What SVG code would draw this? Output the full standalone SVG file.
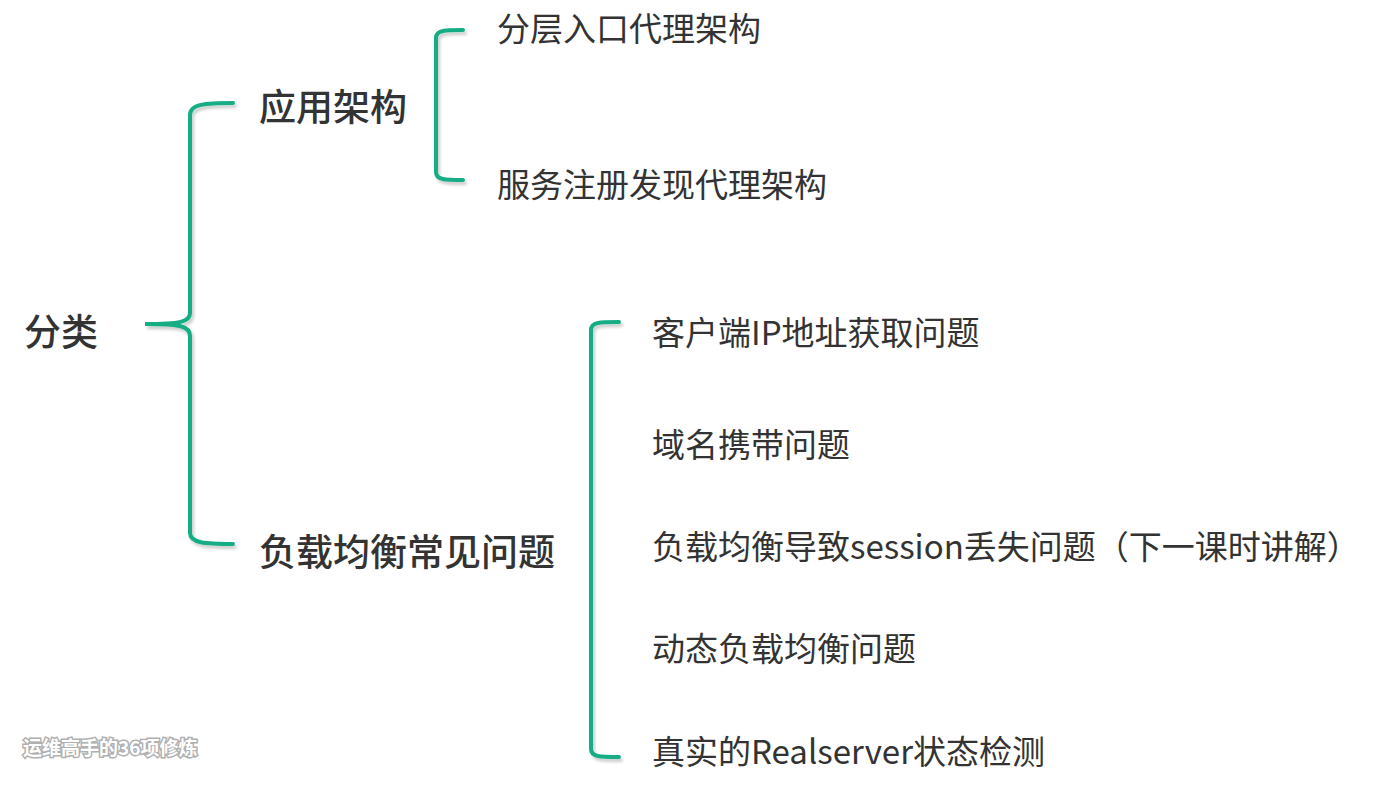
<svg xmlns="http://www.w3.org/2000/svg" width="1388" height="795" viewBox="0 0 1388 795">
<defs>
<filter id="sh" x="-20%" y="-5%" width="140%" height="110%"><feDropShadow dx="2" dy="3" stdDeviation="1.5" flood-color="#000" flood-opacity="0.2"/></filter>
</defs>
<style>
text{font-family:"Noto Sans CJK SC","Noto Sans",sans-serif;fill:#333}
.b{font-size:37px;font-weight:500}
.i{font-size:33px}
.br{fill:none;stroke:#14ad85;stroke-width:4;stroke-linecap:round;filter:url(#sh)}
.wm{font-size:19px;font-weight:bold;fill:#fff;stroke:#b0b0b0;stroke-width:3;paint-order:stroke}
</style>
<rect width="1388" height="795" fill="#fff"/>
<g id="connectors">
<path class="br" d="M233,103 C205,103 190,104 190,115 L190,313 C190,322 180,324 145,324 C180,324 190,326 190,336 L190,533 C190,543 205,544 233,544"/>
<path class="br" d="M463,30 C445,30 436,30 436,38 L436,172 C436,180 445,180 463,180"/>
<path class="br" d="M619,322 C600,322 591,322 591,330 L591,749 C591,757 600,757 619,757"/>
</g>
<g id="root"><text class="b" x="24" y="346">分类</text></g>
<g id="n1"><text class="b" x="259" y="121">应用架构</text></g>
<g id="n2"><text class="b" x="259" y="566">负载均衡常见问题</text></g>
<g id="n11"><text class="i" x="497" y="41">分层入口代理架构</text></g>
<g id="n12"><text class="i" x="497" y="197">服务注册发现代理架构</text></g>
<g id="n21"><text class="i" x="652" y="345">客户端IP地址获取问题</text></g>
<g id="n22"><text class="i" x="652" y="457">域名携带问题</text></g>
<g id="n23"><text class="i" x="652" y="559">负载均衡导致session丢失问题（下一课时讲解）</text></g>
<g id="n24"><text class="i" x="652" y="661">动态负载均衡问题</text></g>
<g id="n25"><text class="i" x="652" y="764">真实的Realserver状态检测</text></g>
<g id="wm"><text class="wm" x="23" y="755">运维高手的36项修炼</text></g>
</svg>
